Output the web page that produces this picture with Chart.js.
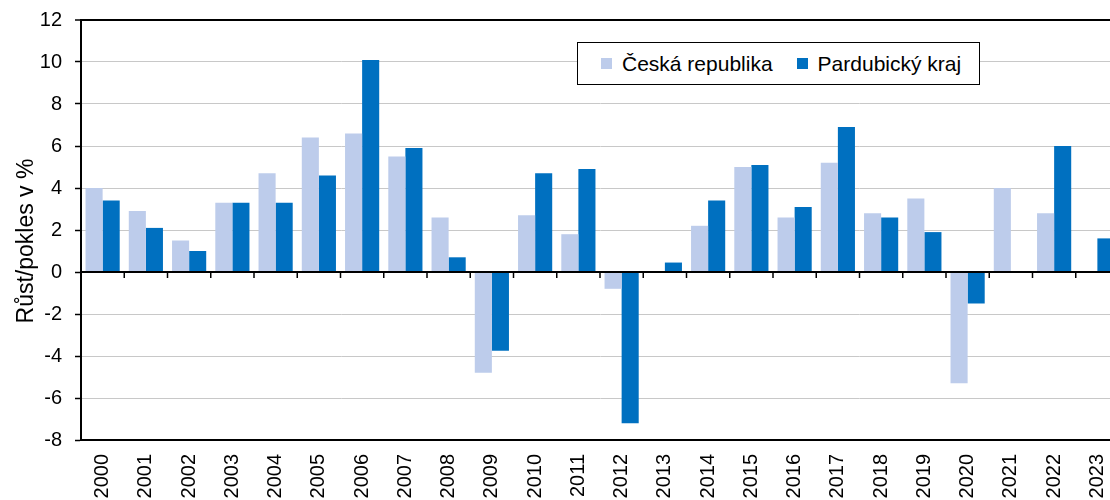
<!DOCTYPE html>
<html lang="cs">
<head>
<meta charset="utf-8">
<title>Růst/pokles v %</title>
<script src="https://cdn.jsdelivr.net/npm/chart.js@4/dist/chart.umd.min.js"></script>
<style>
  html, body { margin: 0; padding: 0; background: #fff; overflow: hidden; }
  #wrap { position: relative; width: 1120px; height: 500px; }
  #legend {
    position: absolute; left: 577px; top: 42px; width: 401px; height: 41px;
    border: 1.5px solid #000; background: #fff;
    display: flex; align-items: center;
    font-family: "Liberation Sans", Arial, sans-serif; font-size: 21px; color: #000;
  }
  #legend .item { display: flex; align-items: center; }
  #legend .box { width: 11px; height: 11px; margin-right: 10px; }
  #legend .item:first-child { margin-left: 23px; }
  #legend .item + .item { margin-left: 24px; }
</style>
</head>
<body>
<div id="wrap">
  <canvas id="growthChart" width="1120" height="500"></canvas>
  <div id="legend"></div>
</div>
<script>
// --- Data ---
const years = ['2000', '2001', '2002', '2003', '2004', '2005', '2006', '2007', '2008', '2009', '2010', '2011',
  '2012', '2013', '2014', '2015', '2016', '2017', '2018', '2019', '2020', '2021', '2022', '2023'];

// Česká republika
const czValues = [4.0, 2.9, 1.5, 3.3, 4.7, 6.4, 6.6, 5.5, 2.6, -4.8, 2.7, 1.8,
  -0.8, 0.0, 2.2, 5.0, 2.6, 5.2, 2.8, 3.5, -5.3, 4.0, 2.8, 0.0];

// Pardubický kraj
const pardValues = [3.4, 2.1, 1.0, 3.3, 3.3, 4.6, 10.1, 5.9, 0.7, -3.75, 4.7, 4.9,
  -7.2, 0.45, 3.4, 5.1, 3.1, 6.9, 2.6, 1.9, -1.5, 0.0, 6.0, 1.6];

const seriesNames = ['Česká republika', 'Pardubický kraj'];
const yTicks = { min: -8, max: 12, step: 2 };
const axisTitle = 'Růst/pokles v %';

const FONT = '"Liberation Sans", Arial, sans-serif';

// --- Zero line with short ticks between the years ---
const zeroLinePlugin = {
  id: 'zeroLine',
  afterDatasetsDraw(chart) {
    const { ctx, chartArea, scales } = chart;
    const y0 = scales.y.getPixelForValue(0);
    const n = chart.data.labels.length;
    const step = (chartArea.right - chartArea.left) / n;
    ctx.save();
    ctx.strokeStyle = '#000';
    ctx.lineWidth = 2;
    ctx.beginPath();
    ctx.moveTo(chartArea.left, y0);
    ctx.lineTo(chartArea.right, y0);
    ctx.stroke();
    ctx.lineWidth = 1.5;
    for (let i = 1; i <= n; i++) {
      // boundary after category i-1
      const xb = scales.x.getPixelForValue(i - 1) + step / 2;
      ctx.beginPath();
      ctx.moveTo(xb, y0);
      ctx.lineTo(xb, y0 + 6);
      ctx.stroke();
    }
    ctx.restore();
  }
};

// --- Y axis title, drawn a bit lower than the plot centre like the original ---
const yTitlePlugin = {
  id: 'yTitle',
  afterDraw(chart) {
    const { ctx, scales } = chart;
    const y = (scales.y.getPixelForValue(yTicks.max) + scales.y.getPixelForValue(yTicks.min)) / 2 + 11;
    ctx.save();
    ctx.translate(27, y);
    ctx.rotate(-Math.PI / 2);
    ctx.font = '23px ' + FONT;
    ctx.fillStyle = '#000';
    ctx.textAlign = 'center';
    ctx.textBaseline = 'middle';
    ctx.fillText(axisTitle, 0, 0);
    ctx.restore();
  }
};

const chart = new Chart(document.getElementById('growthChart').getContext('2d'), {
  type: 'bar',
  data: {
    labels: years,
    datasets: [
      {
        label: seriesNames[0],
        data: czValues,
        backgroundColor: '#BDCCEB',
        categoryPercentage: 0.79,
        barPercentage: 1.0
      },
      {
        label: seriesNames[1],
        data: pardValues,
        backgroundColor: '#0070C0',
        categoryPercentage: 0.79,
        barPercentage: 1.0
      }
    ]
  },
  options: {
    responsive: false,
    animation: false,
    layout: { padding: { top: 20, right: 1, left: 0, bottom: 0 } },
    plugins: {
      legend: { display: false },
      tooltip: { enabled: false }
    },
    scales: {
      x: {
        grid: { display: false, drawTicks: false },
        border: { display: true, color: '#000', width: 2 },
        ticks: {
          color: '#000',
          font: { family: FONT, size: 20 },
          minRotation: 90,
          maxRotation: 90,
          padding: 14,
          autoSkip: false
        },
        afterFit(scale) {
          scale.height = 60;
          scale.paddingLeft = 0;
          scale.paddingRight = 0;
        }
      },
      y: {
        min: yTicks.min,
        max: yTicks.max,
        grid: {
          color: ctx => (ctx.tick && (ctx.tick.value === yTicks.max || ctx.tick.value === 0)) ? '#000' : '#c8c8c8',
          lineWidth: ctx => (ctx.tick && ctx.tick.value === yTicks.max) ? 2 : 1,
          tickColor: '#000',
          tickWidth: 1.5,
          tickLength: 6,
          drawTicks: true
        },
        border: { display: true, color: '#000', width: 2 },
        ticks: {
          stepSize: yTicks.step,
          color: '#000',
          font: { family: FONT, size: 20 },
          padding: 13
        },
        afterFit(scale) {
          scale.width = 81;
          scale.paddingTop = 0;
          scale.paddingBottom = 0;
        }
      }
    }
  },
  plugins: [zeroLinePlugin, yTitlePlugin]
});

// --- HTML legend built from the datasets ---
const legendEl = document.getElementById('legend');
chart.data.datasets.forEach(ds => {
  const item = document.createElement('span');
  item.className = 'item';
  const box = document.createElement('span');
  box.className = 'box';
  box.style.background = ds.backgroundColor;
  const txt = document.createElement('span');
  txt.textContent = ds.label;
  item.appendChild(box);
  item.appendChild(txt);
  legendEl.appendChild(item);
});
</script>
</body>
</html>
